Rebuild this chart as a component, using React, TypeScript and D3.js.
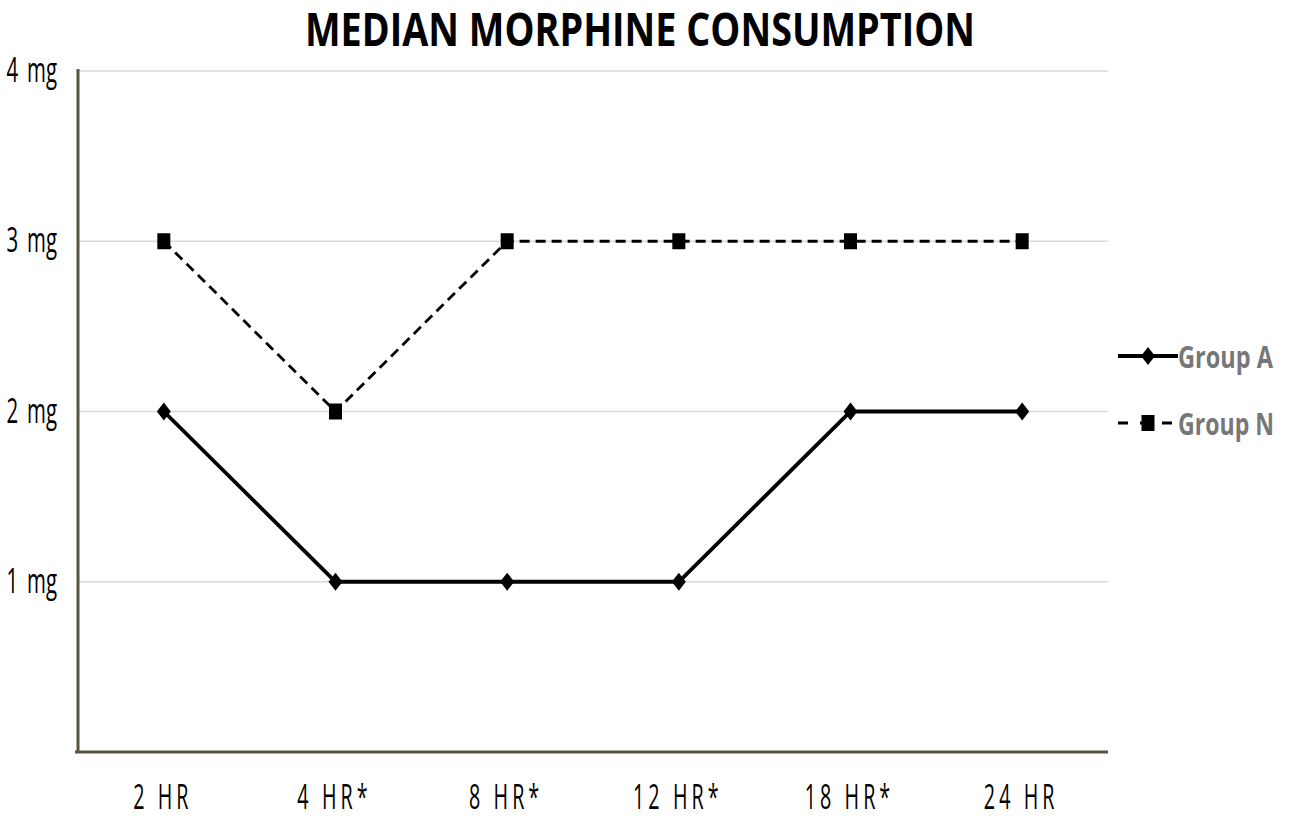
import { useEffect, useRef } from "react";
import * as d3 from "d3";

const W = 1290;
const H = 816;

const categories = ["2 HR", "4 HR*", "8 HR*", "12 HR*", "18 HR*", "24 HR"];
const groupA = [2, 1, 1, 1, 2, 2];
const groupN = [3, 2, 3, 3, 3, 3];
const yTicks = [1, 2, 3, 4];
const yTickLabels = ["1 mg", "2 mg", "3 mg", "4 mg"];

const AXIS_COLOR = "#5b5443";
const GRID_COLOR = "#d9d9d9";
const FONT = "'Open Sans', 'Noto Sans', sans-serif";

export default function App() {
  const ref = useRef<SVGSVGElement>(null);

  useEffect(() => {
    if (!ref.current) return;
    const svg = d3.select(ref.current);
    svg.selectAll("*").remove();

    const left = 78;
    const right = 1108;
    const top = 71;
    const bottom = 752;

    const x = d3.scalePoint<string>().domain(categories).range([left, right]).padding(0.5);
    const y = d3.scaleLinear().domain([0, 4]).range([bottom, top]);

    // title
    svg.append("text")
      .attr("x", 640).attr("y", 46)
      .attr("text-anchor", "middle")
      .attr("font-family", FONT).attr("font-weight", 700).attr("font-size", 47)
      .attr("textLength", 670).attr("lengthAdjust", "spacingAndGlyphs")
      .attr("fill", "#000")
      .text("MEDIAN MORPHINE CONSUMPTION");

    // grid
    svg.append("g").selectAll("line").data(yTicks).join("line")
      .attr("x1", left).attr("x2", right)
      .attr("y1", (d) => y(d)).attr("y2", (d) => y(d))
      .attr("stroke", GRID_COLOR).attr("stroke-width", 1.5);

    // y labels
    svg.append("g").selectAll("text").data(yTicks).join("text")
      .attr("transform", (d) => `translate(57,${y(d) + 11}) scale(0.6,1)`)
      .attr("text-anchor", "end")
      .attr("font-family", FONT).attr("font-size", 34)
      .attr("word-spacing", 6)
      .attr("fill", "#000")
      .text((_, i) => yTickLabels[i]);

    // axes
    svg.append("line")
      .attr("x1", left).attr("x2", left).attr("y1", top - 2).attr("y2", bottom)
      .attr("stroke", AXIS_COLOR).attr("stroke-width", 3);
    svg.append("line")
      .attr("x1", left - 3).attr("x2", right).attr("y1", bottom).attr("y2", bottom)
      .attr("stroke", AXIS_COLOR).attr("stroke-width", 3);

    // x labels
    svg.append("g").selectAll("text").data(categories).join("text")
      .attr("transform", (d) => `translate(${x(d)! - 1},809) scale(0.58,1)`)
      .attr("text-anchor", "middle")
      .attr("font-family", FONT).attr("font-size", 34)
      .attr("letter-spacing", 7)
      .attr("fill", "#000")
      .text((d) => d);

    const line = d3.line<number>()
      .x((_, i) => x(categories[i])!)
      .y((d) => y(d));

    // Group N (dashed, squares)
    svg.append("path").datum(groupN)
      .attr("d", line).attr("fill", "none")
      .attr("stroke", "#000").attr("stroke-width", 2.8)
      .attr("stroke-dasharray", "10,6");
    svg.append("g").selectAll("rect").data(groupN).join("rect")
      .attr("x", (_, i) => x(categories[i])! - 6.5)
      .attr("y", (d) => y(d) - 8)
      .attr("width", 13).attr("height", 16)
      .attr("fill", "#000");

    // Group A (solid, diamonds)
    svg.append("path").datum(groupA)
      .attr("d", line).attr("fill", "none")
      .attr("stroke", "#000").attr("stroke-width", 3.8);
    const diamond = "M0,-9L7,0L0,9L-7,0Z";
    svg.append("g").selectAll("path").data(groupA).join("path")
      .attr("transform", (d, i) => `translate(${x(categories[i])},${y(d)})`)
      .attr("d", diamond)
      .attr("fill", "#000");

    // legend
    const lg = svg.append("g");
    lg.append("line").attr("x1", 1118).attr("x2", 1178).attr("y1", 356).attr("y2", 356)
      .attr("stroke", "#000").attr("stroke-width", 3.8);
    lg.append("path").attr("transform", "translate(1148,356)").attr("d", diamond).attr("fill", "#000");
    lg.append("text")
      .attr("x", 1178).attr("y", 368)
      .attr("font-family", FONT).attr("font-weight", 700).attr("font-size", 31)
      .attr("textLength", 95).attr("lengthAdjust", "spacingAndGlyphs")
      .attr("fill", "#777").text("Group A");

    lg.append("line").attr("x1", 1118).attr("x2", 1178).attr("y1", 423).attr("y2", 423)
      .attr("stroke", "#000").attr("stroke-width", 2.8)
      .attr("stroke-dasharray", "10,12");
    lg.append("rect").attr("x", 1141.5).attr("y", 415).attr("width", 13).attr("height", 16).attr("fill", "#000");
    lg.append("text")
      .attr("x", 1178).attr("y", 435)
      .attr("font-family", FONT).attr("font-weight", 700).attr("font-size", 31)
      .attr("textLength", 96).attr("lengthAdjust", "spacingAndGlyphs")
      .attr("fill", "#777").text("Group N");
  }, []);

  return (
    <svg
      ref={ref}
      width={W}
      height={H}
      style={{ position: "absolute", top: 0, left: 0, background: "#fff" }}
    />
  );
}
